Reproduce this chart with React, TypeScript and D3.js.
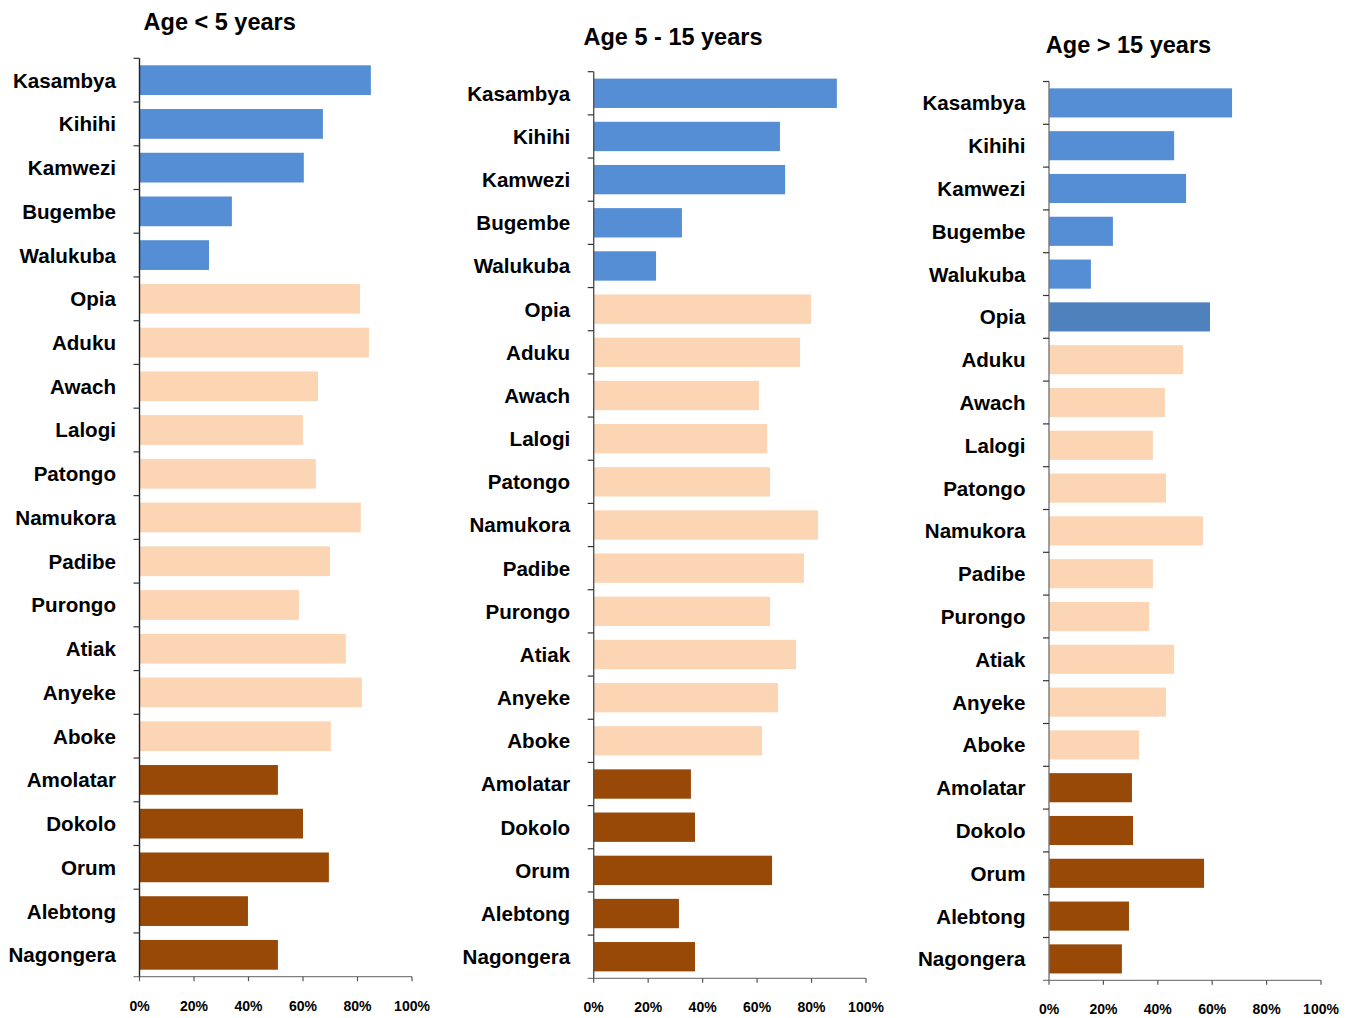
import React from "react";
import * as d3 from "d3";

const categories = [
  "Kasambya", "Kihihi", "Kamwezi", "Bugembe", "Walukuba",
  "Opia", "Aduku", "Awach", "Lalogi", "Patongo", "Namukora", "Padibe",
  "Purongo", "Atiak", "Anyeke", "Aboke",
  "Amolatar", "Dokolo", "Orum", "Alebtong", "Nagongera",
];
const groups = [
  "A", "A", "A", "A", "A",
  "B", "B", "B", "B", "B", "B", "B", "B", "B", "B", "B",
  "C", "C", "C", "C", "C",
];
const under5 = [84.9, 67.3, 60.3, 33.9, 25.5, 80.9, 84.2, 65.5, 60.0, 64.7, 81.2, 69.9, 58.5, 75.7, 81.6, 70.2, 50.8, 60.0, 69.5, 39.8, 50.8];
const age5to15 = [89.3, 68.4, 70.3, 32.4, 22.9, 79.8, 75.8, 60.7, 63.7, 64.8, 82.4, 77.2, 64.8, 74.3, 67.7, 61.8, 35.7, 37.2, 65.5, 31.3, 37.2];
const over15 = [67.3, 46.0, 50.4, 23.5, 15.4, 59.2, 49.3, 42.6, 38.2, 43.0, 56.6, 38.2, 36.8, 46.0, 43.0, 33.1, 30.5, 30.9, 57.0, 29.4, 26.8];
const titles = ["Age < 5 years", "Age 5 - 15 years", "Age > 15 years"];
const xTicks = [0, 20, 40, 60, 80, 100];
const highlight = [null, null, "Opia"];

const groupColor: Record<string, string> = { A: "#558ED5", B: "#FCD5B5", C: "#984807" };
const highlightColor = "#4F81BD";

const panels = [
  { x0: 139.5, x1: 412, yTop: 58.3, yBot: 976.7, titleX: 219.7, titleY: 30, yAxisColor: "#222", values: under5 },
  { x0: 593.7, x1: 866, yTop: 71.7, yBot: 978.3, titleX: 673, titleY: 45, yAxisColor: "#555", values: age5to15 },
  { x0: 1049, x1: 1321, yTop: 81.5, yBot: 980.3, titleX: 1128.5, titleY: 53, yAxisColor: "#777", values: over15 },
];

const font = "'Liberation Sans', Arial, Helvetica, sans-serif";

function Panel({ p, idx }: { p: typeof panels[0]; idx: number }) {
  const x = d3.scaleLinear().domain([0, 100]).range([p.x0, p.x1]);
  const y = d3.scaleBand<string>().domain(categories).range([p.yTop, p.yBot]).paddingInner(0.32).paddingOuter(0.16);
  const step = (p.yBot - p.yTop) / categories.length;
  const bounds = d3.range(categories.length + 1).map((i) => p.yTop + i * step);
  return (
    <g>
      <text x={p.titleX} y={p.titleY} textAnchor="middle" fontFamily={font} fontWeight="bold" fontSize={23.5} fill="#000">
        {titles[idx]}
      </text>
      {categories.map((c, i) => (
        <rect
          key={c}
          x={x(0)}
          y={y(c)}
          width={x(p.values[i]) - x(0)}
          height={y.bandwidth()}
          fill={highlight[idx] === c ? highlightColor : groupColor[groups[i]]}
        />
      ))}
      {categories.map((c) => (
        <text key={c} x={p.x0 - 23.5} y={(y(c) as number) + y.bandwidth() / 2} dy="0.36em" textAnchor="end"
          fontFamily={font} fontWeight="bold" fontSize={20.6} fill="#000">
          {c}
        </text>
      ))}
      {/* x axis */}
      <line x1={p.x0 - 6} x2={p.x1} y1={p.yBot} y2={p.yBot} stroke="#808080" strokeWidth={1.3} />
      {xTicks.map((t) => (
        <g key={t}>
          <line x1={x(t)} x2={x(t)} y1={p.yBot} y2={p.yBot + 4.5} stroke="#555" strokeWidth={1.2} />
          <text x={x(t)} y={p.yBot + 34} textAnchor="middle" fontFamily={font} fontWeight="bold" fontSize={14} fill="#000">
            {t}%
          </text>
        </g>
      ))}
      {/* y axis */}
      <line x1={p.x0} x2={p.x0} y1={p.yTop} y2={p.yBot} stroke={p.yAxisColor} strokeWidth={1.4} />
      {bounds.slice(0, -1).map((b, i) => (
        <line key={i} x1={p.x0 - 6} x2={p.x0} y1={b} y2={b} stroke="#333" strokeWidth={1.2} />
      ))}
    </g>
  );
}

export default function App() {
  return (
    <svg width={1354} height={1018} style={{ position: "absolute", left: 0, top: 0, background: "#fff" }}>
      <rect width={1354} height={1018} fill="#fff" />
      {panels.map((p, i) => (
        <Panel key={i} p={p} idx={i} />
      ))}
    </svg>
  );
}
